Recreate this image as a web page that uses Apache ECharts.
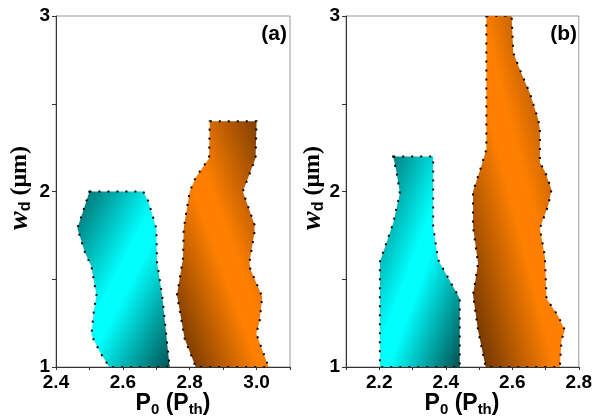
<!DOCTYPE html>
<html><head><meta charset="utf-8">
<script src="https://cdn.jsdelivr.net/npm/echarts@6/dist/echarts.min.js"></script>
<style>html,body{margin:0;padding:0;background:#fff}#c{width:595px;height:420px}</style>
</head><body><div id="c"></div>
<script>
// Panel (a) regions: [P0 (Pth), w_d (um)]
const cyanA = [[2.50,2.0],[2.661,2.0],[2.676,1.945],[2.70,1.79],[2.702,1.60],[2.718,1.40],[2.73,1.18],[2.74,1.0],[2.559,1.0],[2.531,1.087],[2.506,1.183],[2.513,1.316],[2.521,1.41],[2.506,1.573],[2.487,1.65],[2.464,1.79],[2.49,1.94]];
const orangeA = [[2.86,2.40],[3.0,2.40],[2.997,2.19],[2.959,2.0],[2.994,1.81],[2.994,1.77],[2.979,1.60],[2.981,1.56],[3.017,1.40],[3.009,1.26],[2.999,1.19],[3.036,1.0],[2.818,1.0],[2.785,1.16],[2.762,1.41],[2.78,1.62],[2.782,1.79],[2.80,2.0],[2.818,2.08],[2.858,2.19]];
// Panel (b) regions
const cyanB = [[2.242,2.20],[2.362,2.20],[2.362,1.80],[2.377,1.61],[2.402,1.526],[2.442,1.39],[2.442,1.0],[2.202,1.0],[2.202,1.60],[2.222,1.71],[2.242,1.82],[2.262,1.99],[2.252,2.11]];
const orangeB = [[2.522,3.0],[2.598,3.0],[2.603,2.79],[2.628,2.67],[2.653,2.56],[2.678,2.41],[2.683,2.354],[2.683,2.164],[2.698,2.116],[2.718,2.01],[2.708,1.92],[2.683,1.79],[2.698,1.63],[2.703,1.39],[2.738,1.29],[2.758,1.21],[2.748,1.154],[2.743,1.0],[2.52,1.0],[2.497,1.21],[2.482,1.41],[2.497,1.59],[2.482,1.80],[2.482,2.0],[2.507,2.145],[2.522,2.24]];
const xRangeA = [2.4, 3.1];
const xRangeB = [2.1, 2.8];
const yRange = [1, 3];
const panelLabels = ['(a)', '(b)'];

const SANS = "Arial, 'Liberation Sans', sans-serif";
const SERIF = "'Times New Roman', 'Liberation Serif', serif";

const chart = echarts.init(document.getElementById('c'), null, {renderer:'canvas'});

const cyanStops = [{offset:0,color:'#006666'},{offset:0.45,color:'#00ffff'},{offset:0.55,color:'#00ffff'},{offset:1,color:'#005252'}];
const orangeStops = [{offset:0,color:'#6a3300'},{offset:0.45,color:'#ff8000'},{offset:0.55,color:'#ff8000'},{offset:1,color:'#5e2c00'}];

function xAxis(i, r){
  return {type:'value', gridIndex:i, min:r[0], max:r[1], interval:0.1,
    axisLine:{show:true, onZero:false, lineStyle:{color:'#333', width:1}},
    axisTick:{show:true, inside:false, length:3, lineStyle:{color:'#333'}},
    splitLine:{show:false},
    axisLabel:{margin:6, color:'#000', fontFamily:SANS, fontWeight:'bold', fontSize:19,
      formatter: v => (Math.round(v*10)%2===0 ? v.toFixed(1) : '')}};
}
function yAxis(i){
  return {type:'value', gridIndex:i, min:yRange[0], max:yRange[1], interval:0.5,
    axisLine:{show:true, onZero:false, lineStyle:{color:'#333', width:1}},
    axisTick:{show:true, inside:false, length:4, lineStyle:{color:'#333'}},
    splitLine:{show:false},
    axisLabel:{margin:6, color:'#000', fontFamily:SANS, fontWeight:'bold', fontSize:19,
      formatter: v => (Math.abs(v-Math.round(v))<1e-6 ? String(Math.round(v)) : '')}};
}
function poly(i, pts, kind){
  return {type:'custom', xAxisIndex:i, yAxisIndex:i, silent:true, clip:true,
    data:[[pts[0][0], pts[0][1]]],
    renderItem:(params, api)=>{
      const px = pts.map(p=>api.coord(p));
      let x0=Infinity,y0=Infinity,x1=-Infinity,y1=-Infinity;
      px.forEach(p=>{x0=Math.min(x0,p[0]);x1=Math.max(x1,p[0]);y0=Math.min(y0,p[1]);y1=Math.max(y1,p[1]);});
      const w=x1-x0, h=y1-y0, k=2*w*h/(w*w+h*h);
      const g = kind==='cyan'
        ? new echarts.graphic.LinearGradient(x0, y0, x0+h*k, y0+w*k, cyanStops, true)
        : new echarts.graphic.LinearGradient(x1, y0, x1-h*k, y0+w*k, orangeStops, true);
      return {type:'polygon', shape:{points:px},
        style:{fill:g, stroke:'#000', lineWidth:2, lineDash:[2,7]}};
    }};
}
function xTitle(cx){
  return {type:'text', x:cx, y:404, style:{
    text:'{a|P}{s|0}{a| (P}{s|th}{a|)}', align:'center', verticalAlign:'middle',
    rich:{a:{fontFamily:SANS, fontWeight:'bold', fontSize:23, fill:'#000'},
          s:{fontFamily:SANS, fontWeight:'bold', fontSize:15, fill:'#000', padding:[12,0,0,0]}}}};
}
function yTitle(cx){
  return {type:'text', x:cx, y:188, rotation:Math.PI/2, style:{
    text:'{w|w}{d|d}{u| (μm)}', align:'center', verticalAlign:'middle',
    rich:{w:{fontFamily:SERIF, fontStyle:'italic', fontWeight:'bold', fontSize:28, fill:'#000'},
          d:{fontFamily:SANS, fontWeight:'bold', fontSize:16, fill:'#000', padding:[12,0,0,0]},
          u:{fontFamily:SERIF, fontWeight:'bold', fontSize:24, fill:'#000'}}}};
}

chart.setOption({
  animation:false,
  backgroundColor:'#fff',
  grid:[
    {left:56, top:16, width:234, height:351, show:true, borderColor:'#999', borderWidth:1},
    {left:346, top:16, width:234, height:351, show:true, borderColor:'#999', borderWidth:1}
  ],
  xAxis:[xAxis(0, xRangeA), xAxis(1, xRangeB)],
  yAxis:[yAxis(0), yAxis(1)],
  series:[poly(0, cyanA, 'cyan'), poly(0, orangeA, 'orange'), poly(1, cyanB, 'cyan'), poly(1, orangeB, 'orange')],
  graphic:[
    {type:'text', x:287, y:34, style:{text:panelLabels[0], align:'right', verticalAlign:'middle', fontFamily:SANS, fontWeight:'bold', fontSize:21, fill:'#000'}},
    {type:'text', x:577, y:34, style:{text:panelLabels[1], align:'right', verticalAlign:'middle', fontFamily:SANS, fontWeight:'bold', fontSize:21, fill:'#000'}},
    xTitle(173), xTitle(462), yTitle(20), yTitle(313)
  ]
});
</script></body></html>
